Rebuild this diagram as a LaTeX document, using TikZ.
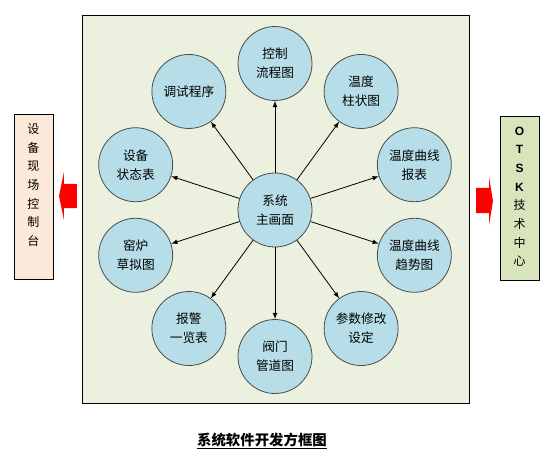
\documentclass[tikz,border=0pt]{standalone}
\usepackage{fontspec}
\newfontfamily\cjk{Noto Sans CJK SC}
\newfontfamily\latin{Liberation Sans}
\usetikzlibrary{positioning}

\definecolor{panelgreen}{HTML}{EBF1DE}
\definecolor{bubbleblue}{HTML}{B7DEE8}
\definecolor{fieldpeach}{HTML}{FDE9D9}
\definecolor{centreolive}{HTML}{D7E4BC}

\tikzset{
  bubble/.style={circle, draw=black!70, fill=bubbleblue, line width=0.6pt,
    minimum size=55.5pt, inner sep=0pt, align=center,
    font=\cjk\fontsize{9.5}{14.2}\selectfont},
  link/.style={-latex, line width=0.6pt},
  sidebox/.style={draw, line width=0.6pt, minimum width=29.25pt,
    minimum height=124pt, inner sep=0pt},
  sidetext/.style={inner sep=0pt, align=center,
    font=\cjk\fontsize{9}{14}\selectfont},
}

\begin{document}
\begin{tikzpicture}[x=0.75pt,y=0.75pt]
\useasboundingbox (-275,-250) rectangle (281,210);
% panel
\draw[fill=panelgreen, line width=0.6pt] (-193,195) rectangle (194,-193);
% hub and screens
\node[bubble] (main) at (0,0) {系统\\主画面};
\foreach \ang/\name/\txt in {90/flow/控制\\流程图, 54/bar/温度\\柱状图,
    18/report/温度曲线\\报表, -18/trend/温度曲线\\趋势图,
    -54/param/参数修改\\设定, -90/valve/阀门\\管道图,
    -126/alarm/报警\\一览表, -162/kiln/窑炉\\草拟图,
    162/status/设备\\状态表, 126/debug/调试程序} {
  \node[bubble] (\name) at (\ang:146.5) {\txt};
  \draw[link] (main) -- (\name);
}
% side units
\node[sidebox, fill=fieldpeach] (field) at (-241.5,13) {};
\node[sidetext] (fieldtext) at ([yshift=9pt]field.center)
  {设\\备\\现\\场\\控\\制\\台};
\node[sidebox, fill=centreolive, minimum height=123pt] (otsk) at (244.5,12) {};
\node[sidetext] (otsktext) at ([yshift=1pt]otsk.center)
  {{\latin\bfseries O}\\{\latin\bfseries T}\\{\latin\bfseries S}\\{\latin\bfseries K}\\技\\术\\中\\心};
% red arrows
\fill[red] (-198,26) -- (-211,26) -- (-211,38) -- (-216,14) -- (-211,-10)
  -- (-211,2) -- (-198,2) -- cycle;
\fill[red] (201,22) -- (214,22) -- (214,33) -- (218,9) -- (214,-15)
  -- (214,-3) -- (201,-3) -- cycle;
% caption
\node[font=\cjk\bfseries\fontsize{10.8}{13}\selectfont] (caption) at (-13,-231)
  {\underline{系统软件开发方框图}};
\end{tikzpicture}
\end{document}
